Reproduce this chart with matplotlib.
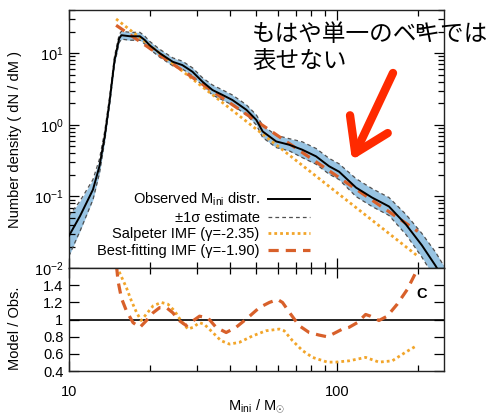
import matplotlib
matplotlib.use("Agg")
import numpy as np
import matplotlib.pyplot as plt
from matplotlib.patches import FancyArrowPatch
from matplotlib.ticker import FixedLocator, FixedFormatter, LogLocator, NullFormatter

plt.rcParams['font.family'] = ['Liberation Sans', 'DejaVu Sans']
plt.rcParams['mathtext.fontset'] = 'custom'
plt.rcParams['mathtext.rm'] = 'Liberation Sans'
plt.rcParams['mathtext.it'] = 'Liberation Sans:italic'
plt.rcParams['mathtext.bf'] = 'Liberation Sans:bold'

# observed initial mass distribution (panel B)
obs_mass = [10.0, 11.0, 12.3, 13.0, 13.6, 14.2, 14.8, 15.4, 15.7, 16.9, 18.4, 19.2,
            20.0, 21.8, 24.4, 26.5, 28.9, 31.5, 34.3, 37.4, 40.7, 45.9, 50.0, 52.8,
            59.3, 66.3, 74.1, 83.5, 93.4, 101.7, 117.7, 134.9, 156.1, 180.5, 207.0,
            233.3, 250.0]
obs_dens = [0.0281, 0.0532, 0.125, 0.264, 0.688, 2.22, 8.0, 16.0, 17.8, 17.2, 17.2, 15.2,
            12.9, 10.0, 7.57, 6.81, 5.50, 3.99, 3.06, 2.61, 2.22, 1.62, 1.17, 0.807,
            0.586, 0.527, 0.450, 0.363, 0.264, 0.222, 0.133, 0.0968, 0.0726, 0.0408,
            0.0209, 0.0107, 0.0068]
# half width of the 1 sigma band, in dex
obs_err_dex = [0.28, 0.21, 0.14, 0.10, 0.07, 0.055, 0.055, 0.055, 0.055, 0.055, 0.055, 0.055,
               0.055, 0.055, 0.055, 0.055, 0.055, 0.055, 0.07, 0.07, 0.07, 0.07, 0.07, 0.085,
               0.085, 0.085, 0.11, 0.11, 0.11, 0.11, 0.125, 0.125, 0.125, 0.14, 0.165,
               0.19, 0.20]

salp_mass = [15.0, 200.0]
salp_dens = [30.0, 0.0147]
best_mass = [15.0, 200.0]
best_dens = [24.5, 0.0326]

# model / observed ratios (panel C)
salp_r_mass = [15.1, 15.7, 16.4, 17.1, 17.9, 18.6, 19.4, 20.6, 22.1, 23.4, 24.8, 26.2,
               27.8, 29.0, 30.7, 32.0, 34.4, 36.9, 39.7, 43.2, 48.4, 54.3, 60.9, 63.5,
               68.2, 74.3, 81.0, 92.0, 98.9, 110.8, 127.8, 143.3, 160.6, 180.0, 198.9]
salp_ratio = [1.62, 1.50, 1.37, 1.22, 1.08, 0.99, 1.06, 1.16, 1.20, 1.18, 1.10, 0.985,
              0.89, 0.91, 0.965, 0.945, 0.85, 0.755, 0.715, 0.735, 0.81, 0.87, 0.89, 0.87,
              0.755, 0.64, 0.56, 0.505, 0.505, 0.52, 0.56, 0.505, 0.52, 0.62, 0.70]
best_r_mass = [15.06, 15.25, 15.7, 16.4, 17.35, 18.4, 19.4, 20.6, 21.8, 23.1, 24.4, 25.9,
               27.4, 29.0, 30.7, 33.0, 35.4, 38.6, 42.0, 46.4, 51.3, 55.9, 60.0, 62.6,
               67.3, 72.2, 78.7, 85.7, 92.0, 98.9, 104.7, 110.8, 119.0, 127.8, 133.4,
               143.3, 153.8, 167.6, 182.6, 198.9]
best_ratio = [1.62, 1.45, 1.25, 1.10, 0.965, 0.91, 0.985, 1.08, 1.14, 1.14, 1.08, 0.985,
              0.93, 0.985, 1.04, 1.02, 0.91, 0.85, 0.91, 1.02, 1.14, 1.20, 1.235, 1.20,
              1.06, 0.93, 0.85, 0.82, 0.80, 0.85, 0.89, 0.91, 0.965, 1.06, 1.04,
              0.99, 1.04, 1.18, 1.35, 1.58]

ratio_ticks = [0.4, 0.6, 0.8, 1.0, 1.2, 1.4]
ratio_tick_labels = ['0.4', '0.6', '0.8', '1', '1.2', '1.4']

salp_color = '#f2a52a'
best_color = '#d8602a'
band_color = '#98c4e3'

fig = plt.figure(figsize=(4.92, 4.17), dpi=100)
ax1 = fig.add_axes([0.140, 0.357, 0.762, 0.619])
ax2 = fig.add_axes([0.140, 0.110, 0.762, 0.247])

obs_dens_a = np.array(obs_dens)
err = np.array(obs_err_dex)
lo = obs_dens_a / 10 ** err
hi = obs_dens_a * 10 ** err

ax1.fill_between(obs_mass, lo, hi, color=band_color, lw=0, zorder=1)
ax1.plot(obs_mass, hi, color='#505050', ls=(0, (3, 2.5)), lw=0.9, zorder=2)
sig_line, = ax1.plot(obs_mass, lo, color='#505050', ls=(0, (3, 2.5)), lw=0.9, zorder=2)
salp_line, = ax1.plot(salp_mass, salp_dens, color=salp_color, ls=(0, (1, 1.1)), lw=2.0, zorder=3)
best_line, = ax1.plot(best_mass, best_dens, color=best_color, ls=(0, (3.2, 2.2)), lw=2.3, zorder=3)
obs_line, = ax1.plot(obs_mass, obs_dens, color='black', lw=1.4, zorder=4)

ax1.set_xscale('log')
ax1.set_yscale('log')
ax1.set_xlim(10, 250)
ax1.set_ylim(0.01, 40)
ax1.set_ylabel('Number density ( dN / dM )', fontsize=10.5)
ax1.yaxis.set_label_coords(-0.125, 0.5)
ax1.tick_params(labelbottom=False)

leg = ax1.legend([obs_line, sig_line, salp_line, best_line],
                 [r'Observed M$_{\mathrm{ini}}$ distr.', '±1σ estimate',
                  'Salpeter IMF (γ=-2.35)', 'Best-fitting IMF (γ=-1.90)'],
                 loc='lower right', bbox_to_anchor=(310 / 492, 1 - 258 / 417),
                 bbox_transform=fig.transFigure, frameon=False, markerfirst=False,
                 handlelength=2.9, handletextpad=0.55, labelspacing=0.18,
                 borderpad=0, borderaxespad=0, fontsize=10.5)
ax1.text(420 / 492, 1 - 30 / 417, 'B', transform=fig.transFigure, fontsize=9,
         fontweight='bold', ha='center', va='center')

ax2.axhline(1.0, color='black', lw=1.2, zorder=1)
ax2.plot(salp_r_mass, salp_ratio, color=salp_color, ls=(0, (1, 1.1)), lw=2.0)
ax2.plot(best_r_mass, best_ratio, color=best_color, ls=(0, (3.2, 2.2)), lw=2.3)
ax2.set_xscale('log')
ax2.set_xlim(10, 250)
ax2.set_ylim(0.4, 1.6)
ax2.yaxis.set_major_locator(FixedLocator(ratio_ticks))
ax2.yaxis.set_major_formatter(FixedFormatter(ratio_tick_labels))
ax2.set_xticks([10, 100], labels=['10', '100'])
ax2.set_ylabel('Model / Obs.', fontsize=10.5)
ax2.yaxis.set_label_coords(-0.125, 0.42)
ax2.set_xlabel(r'M$_{\mathrm{ini}}$ / M$_{\odot}$', fontsize=10.5, labelpad=-1)
ax2.text(422 / 492, 1 - 294 / 417, 'C', transform=fig.transFigure, fontsize=10.5,
         fontweight='bold', ha='center', va='center')

for ax in (ax1, ax2):
    ax.xaxis.set_minor_locator(LogLocator(base=10, subs=np.arange(2, 10)))
    ax.xaxis.set_minor_formatter(NullFormatter())
    ax.tick_params(which='both', direction='in', top=True, right=True, labelsize=10.5, width=0.9)
    ax.tick_params(which='major', length=7)
    ax.tick_params(which='minor', length=4)
    ax.tick_params(axis='x', pad=10)
    for s in ax.spines.values():
        s.set_linewidth(1.0)
        s.set_color('#222222')
ax1.tick_params(axis='y', pad=4)
ax2.tick_params(axis='y', pad=4)

fig.text(252 / 492, 1 - 48 / 417, 'もはや単一のベキでは\n表せない', fontsize=17,
         family=['Noto Sans CJK JP', 'DejaVu Sans'], ha='left', va='center',
         linespacing=1.27)
arrow = FancyArrowPatch((393 / 492, 1 - 73 / 417), (352 / 492, 1 - 160 / 417),
                        transform=fig.transFigure,
                        arrowstyle='->,head_length=2.3,head_width=1.5',
                        mutation_scale=10, lw=6, color='#ff2a00',
                        capstyle='round', joinstyle='round',
                        shrinkA=0, shrinkB=0)
fig.add_artist(arrow)

fig.savefig('out.png', dpi=100)
